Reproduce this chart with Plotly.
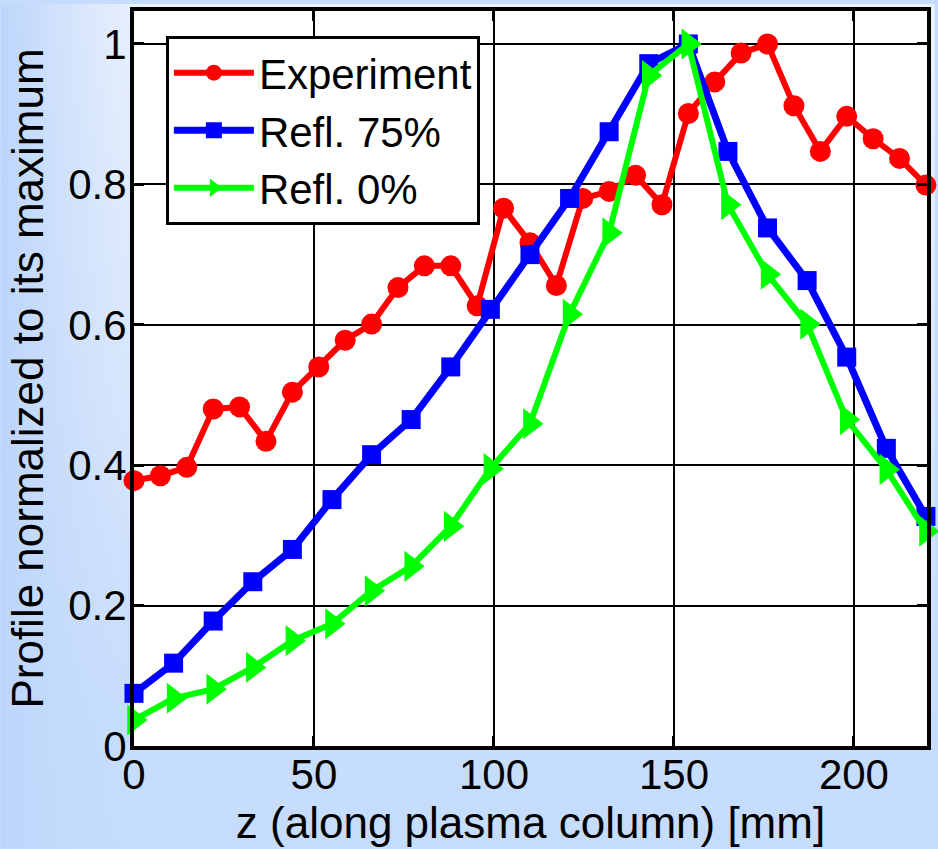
import base64
import plotly.graph_objects as go

# Axial emission profiles, each normalized to its own maximum
z_exp = [i * 220 / 30 for i in range(31)]
exp_profile = [0.378, 0.385, 0.397, 0.480, 0.483, 0.434, 0.504, 0.540, 0.578, 0.601,
               0.653, 0.684, 0.684, 0.627, 0.766, 0.717, 0.656, 0.780, 0.790, 0.813,
               0.771, 0.901, 0.946, 0.987, 1.000, 0.912, 0.847, 0.897, 0.865, 0.837,
               0.799]

z_sim = [i * 11 for i in range(21)]
refl75_profile = [0.075, 0.118, 0.178, 0.234, 0.280, 0.351, 0.415, 0.465, 0.540, 0.622,
                  0.700, 0.780, 0.875, 0.972, 1.000, 0.847, 0.738, 0.663, 0.554, 0.424,
                  0.327]
refl0_profile = [0.037, 0.068, 0.081, 0.112, 0.150, 0.174, 0.221, 0.256, 0.313, 0.395,
                 0.459, 0.615, 0.731, 0.955, 1.000, 0.771, 0.672, 0.601, 0.465, 0.394,
                 0.306]

x_tick_vals = [0, 50, 100, 150, 200]
x_tick_text = ["0", "50", "100", "150", "200"]
y_tick_vals = [0, 0.2, 0.4, 0.6, 0.8, 1.0]
y_tick_text = ["0", "0.2", "0.4", "0.6", "0.8", "1"]

W, H = 938, 849
L, R, T, B = 134, 8, 7, 103
PW, PH = W - L - R, H - T - B

FONT = "Liberation Sans, Arial, sans-serif"

# Soft blue backdrop: light at the top, deeper blue toward the bottom and left edge
svg = f"""<svg xmlns='http://www.w3.org/2000/svg' width='{W}' height='{H}' viewBox='0 0 {W} {H}'>
<defs>
<linearGradient id='v' x1='0' y1='0' x2='0' y2='1'>
<stop offset='0' stop-color='#ecf2fd'/>
<stop offset='0.45' stop-color='#dbe8fc'/>
<stop offset='0.85' stop-color='#c6ddfc'/>
<stop offset='1' stop-color='#c5dcfc'/>
</linearGradient>
<linearGradient id='h' x1='0' y1='0' x2='1' y2='0'>
<stop offset='0' stop-color='#bcd5fa' stop-opacity='1'/>
<stop offset='0.16' stop-color='#c8ddfb' stop-opacity='0'/>
</linearGradient>
</defs>
<rect width='{W}' height='{H}' fill='url(#v)'/>
<rect width='{W}' height='{H}' fill='url(#h)'/>
</svg>"""
bg_src = "data:image/svg+xml;base64," + base64.b64encode(svg.encode()).decode()

fig = go.Figure()

fig.add_trace(go.Scatter(
    x=z_exp, y=exp_profile, name="Experiment", mode="lines+markers",
    line=dict(color="#ff0000", width=6),
    marker=dict(symbol="circle", size=21, color="#ff0000"),
    cliponaxis=False,
))
fig.add_trace(go.Scatter(
    x=z_sim, y=refl75_profile, name="Refl. 75%", mode="lines+markers",
    line=dict(color="#0000ff", width=7),
    marker=dict(symbol="square", size=19, color="#0000ff"),
    cliponaxis=False,
))
fig.add_trace(go.Scatter(
    x=z_sim, y=refl0_profile, name="Refl. 0%", mode="lines+markers",
    line=dict(color="#00ff00", width=6),
    marker=dict(symbol="triangle-right", size=27, color="#00ff00"),
    cliponaxis=False,
))

axis_common = dict(
    showline=True, linecolor="black", linewidth=4, mirror="ticks",
    showgrid=True, gridcolor="black", gridwidth=2,
    zeroline=False,
    ticks="inside", ticklen=10, tickwidth=3, tickcolor="black",
    tickfont=dict(family=FONT, size=42, color="black"),
)

fig.update_xaxes(
    range=[0, 220.3], tickmode="array", tickvals=x_tick_vals, ticktext=x_tick_text,
    title=dict(text="z (along plasma column) [mm]", standoff=6,
               font=dict(family=FONT, size=44, color="black")),
    ticklabelstandoff=-11,
    **axis_common,
)
fig.update_yaxes(
    range=[0, 1.047], tickmode="array", tickvals=y_tick_vals, ticktext=y_tick_text,
    title=dict(text="Profile normalized to its maximum", standoff=12,
               font=dict(family=FONT, size=44, color="black")),
    ticklabelstandoff=-5,
    **axis_common,
)

fig.update_layout(
    width=W, height=H,
    margin=dict(l=L, r=R, t=T, b=B, pad=0),
    paper_bgcolor="#c5dcfc",
    plot_bgcolor="white",
    font=dict(family=FONT, color="black"),
    showlegend=True,
    legend=dict(
        x=(166 - L) / PW, y=1 - (32 - T) / PH, xanchor="left", yanchor="top",
        bgcolor="white", bordercolor="black", borderwidth=3,
        font=dict(family=FONT, size=42, color="black"),
        itemwidth=80, tracegroupgap=0,
    ),
    images=[dict(
        source=bg_src, xref="paper", yref="paper",
        x=-L / PW, y=1 + T / PH, sizex=W / PW, sizey=H / PH,
        xanchor="left", yanchor="top", sizing="stretch", layer="below",
    )],
    shapes=[dict(
        type="rect", xref="paper", yref="paper", x0=0, x1=1, y0=0, y1=1,
        fillcolor="white", line=dict(width=0), layer="below",
    )],
)

fig.write_html("out.html")
